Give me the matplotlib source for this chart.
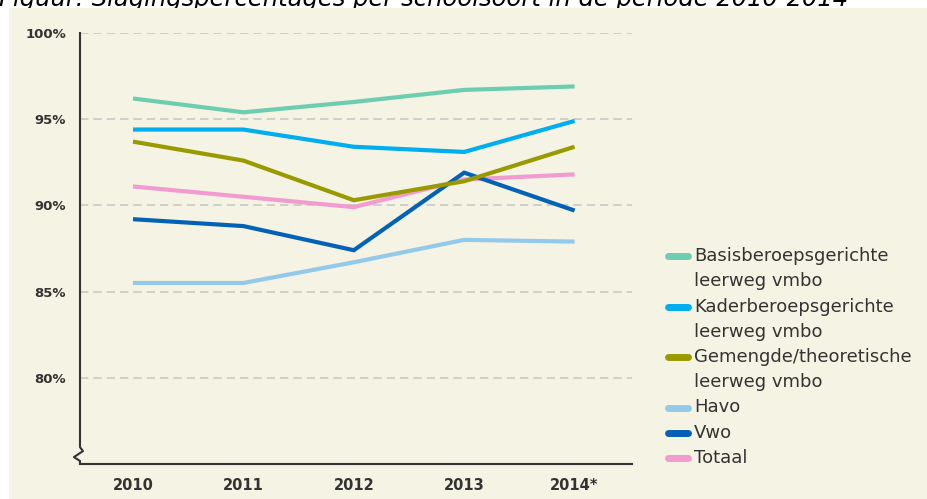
import matplotlib
matplotlib.use("Agg")
import matplotlib.pyplot as plt
from matplotlib.patches import Rectangle
from matplotlib.lines import Line2D

YEARS = ["2010", "2011", "2012", "2013", "2014"]
BASIS = [96.2, 95.4, 96.0, 96.7, 96.9]
KADER = [94.4, 94.4, 93.4, 93.1, 94.9]
GEMENGD = [93.7, 92.6, 90.3, 91.4, 93.4]
HAVO = [85.5, 85.5, 86.7, 88.0, 87.9]
VWO = [89.2, 88.8, 87.4, 91.9, 89.7]
TOTAAL = [91.1, 90.5, 89.9, 91.5, 91.8]

LABELS = ["Basisberoepsgerichte\nleerweg vmbo", "Kaderberoepsgerichte\nleerweg vmbo",
          "Gemengde/theoretische\nleerweg vmbo", "Havo", "Vwo", "Totaal"]
COLORS = ["#6ccdb1", "#00adee", "#999a00", "#93c9eb", "#0462b6", "#f29bd0"]
SERIES = [BASIS, KADER, GEMENGD, HAVO, VWO, TOTAAL]
Y_TICKS = [80, 85, 90, 95, 100]

BG = "#f5f3e3"
TXT = "#333333"

W, H = 927, 499
fig = plt.figure(figsize=(W / 100, H / 100), dpi=100)
fig.patch.set_facecolor("white")

# cut-off caption at the very top, partly hidden behind the beige panel
fig.text(-1 / W, 1 - 6 / H, "Figuur: Slagingspercentages per schoolsoort in de periode 2010-2014",
         fontsize=17.5, style="italic", color="black", va="baseline", ha="left", zorder=-3)
fig.patches.append(Rectangle((9 / W, 0), 1, 1 - 8 / H, transform=fig.transFigure,
                             facecolor=BG, edgecolor="none", zorder=-2))

ax = fig.add_axes([80 / W, 1 - 464 / H, (632 - 80) / W, (464 - 33) / H])
ax.patch.set_alpha(0)

x = list(range(len(YEARS)))
for i in [5, 3, 4, 1, 2, 0]:
    ax.plot(x, SERIES[i], color=COLORS[i], lw=3.0, solid_joinstyle="miter",
            solid_capstyle="butt", zorder=3)

ax.set_xlim(-0.48, 4.52)
ax.set_ylim(75, 100)
for yv in Y_TICKS:
    ax.axhline(yv, color="#c8c8c8", lw=1.2, ls=(0, (5, 3)), zorder=1)

for s in ["top", "right", "left"]:
    ax.spines[s].set_visible(False)
ax.spines["bottom"].set_color(TXT)
ax.spines["bottom"].set_linewidth(1.5)

# left axis with a break mark near the bottom
br = [1.0, 0.039, 0.030, 0.016, 0.007, 0.0]
bx = [0.0, 0.0, 0.0054, -0.011, 0.0, 0.0]
ax.add_line(Line2D(bx, br, transform=ax.transAxes, color=TXT, lw=1.5, clip_on=False, zorder=4))

ax.set_xticks(x)
ax.set_xticklabels(["2010", "2011", "2012", "2013", "2014*"])
ax.set_yticks(Y_TICKS)
ax.set_yticklabels([f"{v}%" for v in Y_TICKS])
ax.tick_params(length=0, colors=TXT)
ax.tick_params(axis="x", pad=10, labelsize=10.5)
ax.tick_params(axis="y", pad=10, labelsize=9.5)
for t in ax.get_xticklabels() + ax.get_yticklabels():
    t.set_fontweight("bold")
    t.set_color(TXT)

# legend, handle next to the first line of each label
line_y = 256
step = 25.25
for lab, col in zip(LABELS, COLORS):
    yf = 1 - line_y / H
    fig.add_artist(Line2D([668 / W, 688 / W], [yf, yf], transform=fig.transFigure,
                          color=col, lw=5, solid_capstyle="round"))
    for part in lab.split("\n"):
        fig.text(694 / W, 1 - line_y / H, part, fontsize=13, color=TXT, va="center", ha="left")
        line_y += step

fig.savefig("out.png", dpi=100, facecolor=fig.get_facecolor())
